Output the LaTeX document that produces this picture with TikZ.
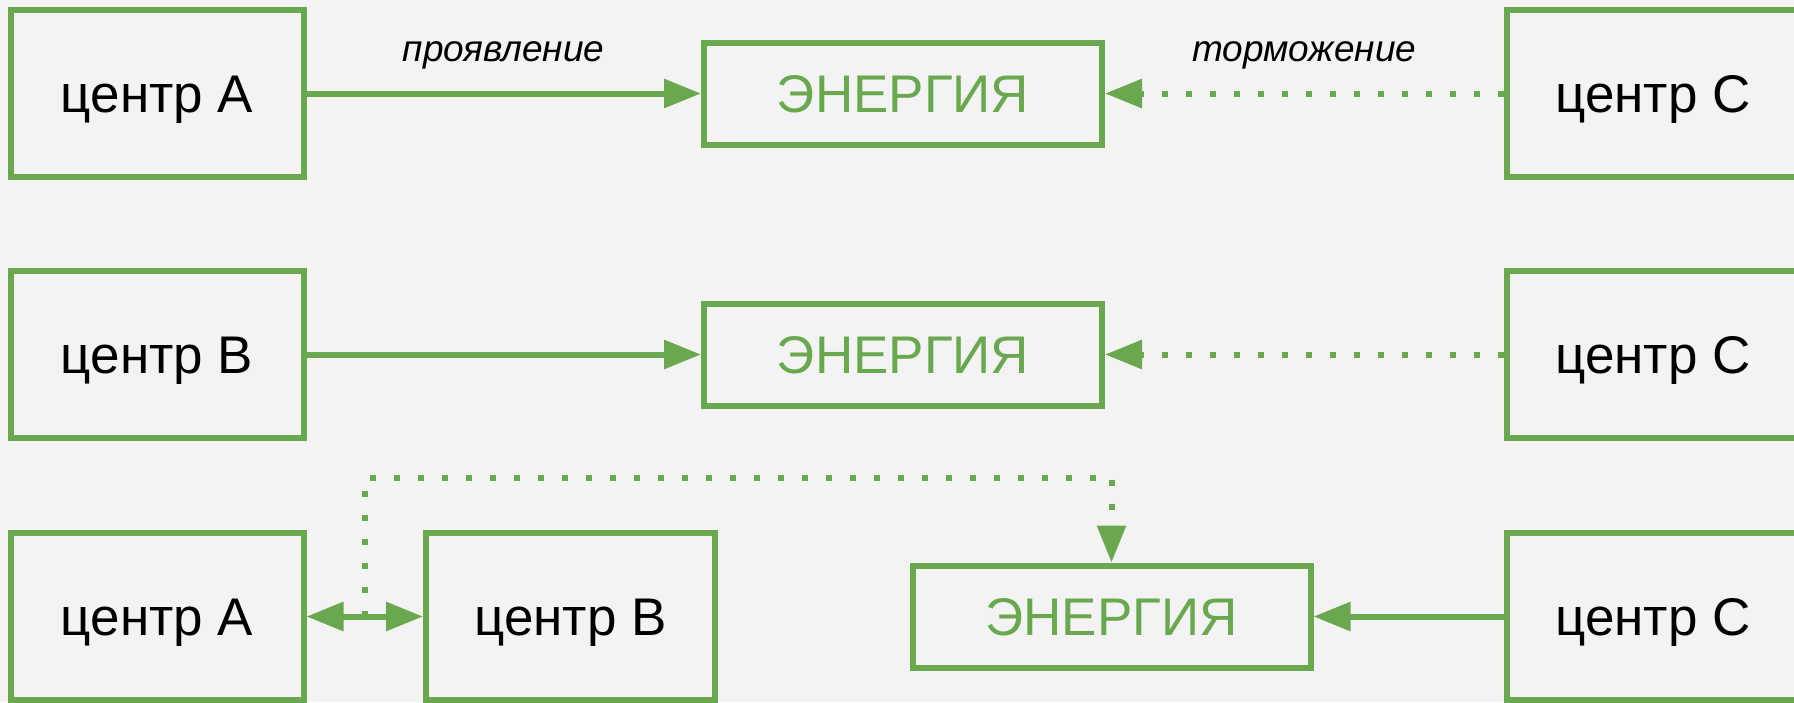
\documentclass[tikz,border=0pt]{standalone}
\usepackage{fontspec}
\setmainfont{Liberation Sans}
\usetikzlibrary{arrows.meta,calc}
\definecolor{gr}{HTML}{6AA84F}
\definecolor{bg}{HTML}{F3F3F3}
\tikzset{
  center/.style={draw=gr, line width=6pt, fill=bg, minimum width=293pt, minimum height=167pt,
    inner sep=0pt, text height=38pt, text depth=0pt, font=\fontsize{53}{60}\selectfont, text=black},
  energy/.style={draw=gr, line width=6pt, fill=bg, minimum width=398pt, minimum height=102pt,
    inner sep=0pt, text height=38pt, text depth=0pt, font=\fontsize{53}{60}\selectfont, text=gr},
  tip/.style={Triangle[length=37pt,width=28pt]},
  link/.style={draw=gr, line width=6pt, -{Triangle[length=37pt,width=28pt]}},
  dotlink/.style={link, dash pattern=on 6pt off 18pt},
  lbl/.style={font=\itshape\fontsize{37}{42}\selectfont, text=black, inner sep=0pt, anchor=base},
}
\begin{document}
\begin{tikzpicture}[x=1pt,y=-1pt]
\fill[bg] (0,0) rectangle (1794,702);
\useasboundingbox (0,0) rectangle (1794,702);
% row 1
\node[center] (a1) at (157,93.5) {центр A};
\node[energy] (e1) at (903,93.5) {ЭНЕРГИЯ};
\node[center] (c1) at (1653,93.5) {центр C};
% row 2
\node[center] (b2) at (157,354.5) {центр B};
\node[energy] (e2) at (903,354.5) {ЭНЕРГИЯ};
\node[center] (c2) at (1653,354.5) {центр C};
% row 3
\node[center] (a3) at (157,616.5) {центр A};
\node[center, minimum width=289pt] (b3) at (570.5,616.5) {центр B};
\node[energy] (e3) at (1111.5,616.5) {ЭНЕРГИЯ};
\node[center] (c3) at (1653,616.5) {центр C};
% connectors
\draw[link] (a1) -- node[lbl, midway, yshift=32pt] (l1) {проявление} (e1);
\draw[dotlink] (c1) -- node[lbl, midway, yshift=32pt] (l2) {торможение} (e1);
\draw[link] (b2) -- (e2);
\draw[dotlink] (c2) -- (e2);
\draw[link, {Triangle[length=37pt,width=28pt]}-{Triangle[length=37pt,width=28pt]}] (a3) -- coordinate[pos=0.5] (m) (b3);
\draw[dotlink] (m) -- ++(0,-139) -| (e3.north);
\draw[link] (c3) -- (e3);
\end{tikzpicture}
\end{document}
